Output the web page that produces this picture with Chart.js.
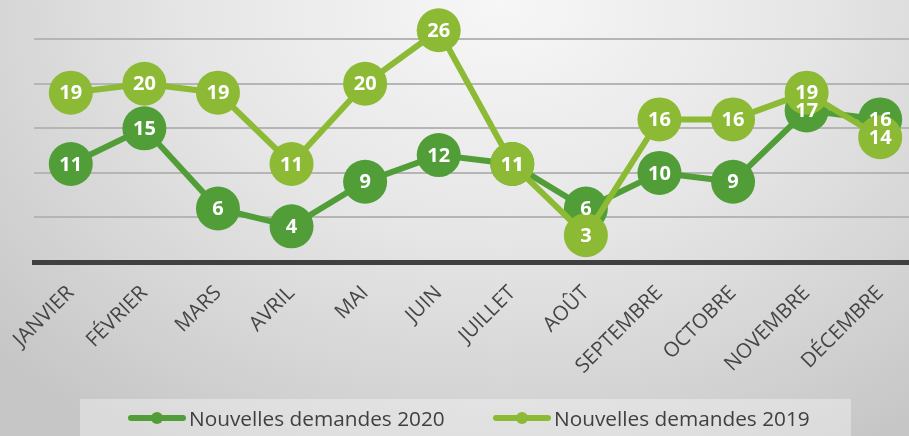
<!DOCTYPE html>
<html>
<head>
<meta charset="utf-8">
<script src="https://cdn.jsdelivr.net/npm/chart.js@4"></script>
<style>
  html, body { margin: 0; padding: 0; width: 909px; height: 436px; overflow: hidden; }
  body {
    position: relative;
    background: radial-gradient(ellipse 75% 120% at 55% 0%, #f7f7f7 0%, #e6e6e6 45%, #d2d2d2 80%, #c6c6c6 100%);
    font-family: "Open Sans", sans-serif;
  }
  #wrap { position: absolute; left: 0; top: 0; width: 930px; height: 400px; }
  .legend {
    position: absolute; left: 80px; top: 399px; width: 771px; height: 40px;
    background: rgba(255,255,255,0.35);
  }
  .item { position: absolute; top: 0; height: 37px; display: flex; align-items: center; color: #404040; font-size: 20.8px; white-space: nowrap; }
  .mark { position: relative; width: 58px; height: 6px; border-radius: 3px; margin-right: 3px; }
  .mark::after { content: ''; position: absolute; left: 23px; top: -3px; width: 12px; height: 12px; border-radius: 50%; background: inherit; }
</style>
</head>
<body>
<div id="wrap"><canvas id="demandesChart" width="930" height="400"></canvas></div>
<div class="legend">
  <div class="item" style="left:48px"><span class="mark" style="background:#519e38"></span>Nouvelles demandes 2020</div>
  <div class="item" style="left:413px"><span class="mark" style="background:#8cba35"></span>Nouvelles demandes 2019</div>
</div>
<script>
const mois = ['JANVIER', 'FÉVRIER', 'MARS', 'AVRIL', 'MAI', 'JUIN', 'JUILLET', 'AOÛT', 'SEPTEMBRE', 'OCTOBRE', 'NOVEMBRE', 'DÉCEMBRE'];
const demandes2020 = [11, 15, 6, 4, 9, 12, 11, 6, 10, 9, 17, 16];
const demandes2019 = [19, 20, 19, 11, 20, 26, 11, 3, 16, 16, 19, 14];
const gridValues = [0, 5, 10, 15, 20, 25];

// white numbers in the middle of each circle
const valueLabels = {
    id: 'valueLabels',
    afterDatasetsDraw(chart) {
        const ctx = chart.ctx;
        ctx.save();
        ctx.fillStyle = '#fff';
        ctx.font = 'bold 20px "Open Sans"';
        ctx.textAlign = 'center';
        ctx.textBaseline = 'middle';
        chart.data.datasets.forEach((ds, i) => {
            chart.getDatasetMeta(i).data.forEach((pt, j) => {
                ctx.fillText(ds.data[j], pt.x, pt.y + 1);
            });
        });
        ctx.restore();
    }
};

const ctx = document.getElementById('demandesChart').getContext('2d');
new Chart(ctx, {
    type: 'line',
    data: {
        labels: mois,
        datasets: [{
            label: 'Nouvelles demandes 2019',
            data: demandes2019,
            borderColor: '#8cba35',
            backgroundColor: '#8cba35',
            borderWidth: 6,
            pointRadius: 22,
            pointHoverRadius: 22,
            pointBorderWidth: 0,
            tension: 0,
            clip: false
        }, {
            label: 'Nouvelles demandes 2020',
            data: demandes2020,
            borderColor: '#519e38',
            backgroundColor: '#519e38',
            borderWidth: 6,
            pointRadius: 22,
            pointHoverRadius: 22,
            pointBorderWidth: 0,
            tension: 0,
            clip: false
        }]
    },
    options: {
        responsive: false,
        animation: false,
        layout: { autoPadding: false, padding: { top: 0, right: 13, bottom: 0, left: 0 } },
        plugins: { legend: { display: false }, tooltip: { enabled: false } },
        scales: {
            x: {
                offset: true,
                grid: { display: false, drawTicks: false, offset: true },
                border: { color: '#404040', width: 5 },
                ticks: {
                    color: '#454545',
                    font: { family: 'Open Sans', size: 20.5 },
                    minRotation: 45,
                    maxRotation: 45,
                    padding: 19
                },
                afterFit(scale) {
                    scale.height = 138;
                    scale.paddingLeft = 0;
                    scale.paddingRight = 0;
                }
            },
            y: {
                min: 0,
                max: 29.4,
                grid: { color: '#b5b5b5', lineWidth: 2, drawTicks: false },
                border: { display: false },
                ticks: { display: false },
                afterBuildTicks(scale) {
                    scale.ticks = gridValues.map(v => ({ value: v }));
                },
                afterFit(scale) {
                    scale.width = 34;
                }
            }
        }
    },
    plugins: [valueLabels]
});
</script>
</body>
</html>
